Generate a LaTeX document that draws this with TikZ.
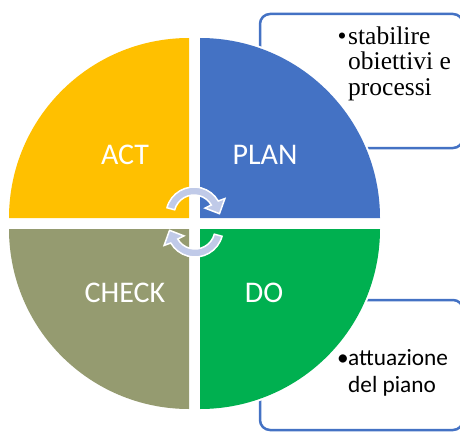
\documentclass[tikz,border=0pt]{standalone}
\usepackage{fontspec}
\newfontfamily\calibri{Carlito}
\newfontfamily\cambria{Liberation Serif}
\definecolor{actc}{HTML}{FFC000}
\definecolor{planc}{HTML}{4472C4}
\definecolor{checkc}{HTML}{959B70}
\definecolor{doc}{HTML}{00B050}
\definecolor{arrowc}{HTML}{C0CAE8}
\begin{document}
\begin{tikzpicture}[x=1pt,y=1pt,
 quad/.style={preaction={draw=white,line width=4pt}},
 lbl/.style={text=white,font=\calibri\fontsize{30}{36}\selectfont,inner sep=0pt},
 infobox/.style={draw=planc,line width=2.5pt,rounded corners=10pt,fill=white},
 cyc/.style={fill=arrowc,draw=white,line width=1.5pt,line join=miter},
 sertext/.style={font=\cambria\fontsize{25.5}{25}\selectfont,anchor=base west,inner sep=0pt},
 santext/.style={font=\calibri\fontsize{23.3}{27}\selectfont,anchor=base west,inner sep=0pt}]
\useasboundingbox (0,0) rectangle (460,432);
\clip (0,0) rectangle (460,432);
% info boxes
\draw[infobox] (260,418) rectangle (463,284);
\draw[infobox] (260,132) rectangle (463,2);
% quadrants
\fill[actc,quad] (189,214) -- (9,214) arc[start angle=180,end angle=90,radius=180pt] -- cycle;
\fill[planc,quad] (200,214) -- (200,394) arc[start angle=90,end angle=0,radius=180pt] -- cycle;
\fill[checkc,quad] (189,203) -- (9,203) arc[start angle=180,end angle=270,radius=180pt] -- cycle;
\fill[doc,quad] (200,203) -- (380,203) arc[start angle=0,end angle=-90,radius=180pt] -- cycle;
% labels
\node[lbl] (act) at (125,277) {ACT};
\node[lbl] (plan) at (265,277) {PLAN};
\node[lbl] (check) at (125,139) {CHECK};
\node[lbl] (do) at (264,139) {DO};
% cycle arrows
\begin{scope}[shift={(194,217)}]
\path[cyc] (165:28pt) arc[start angle=165,end angle=30,radius=28pt] -- (28:35pt) -- (3:25.5pt) -- (32:13pt) -- (30:20pt) arc[start angle=30,end angle=165,radius=20pt] -- cycle;
\end{scope}
\begin{scope}[shift={(195,203)},rotate=180]
\path[cyc] (165:28pt) arc[start angle=165,end angle=30,radius=28pt] -- (28:35pt) -- (3:25.5pt) -- (32:13pt) -- (30:20pt) arc[start angle=30,end angle=165,radius=20pt] -- cycle;
\end{scope}
% texts
\node[sertext] (bul1) at (337.5,387) {•};
\node[sertext] (t1) at (348,387) {stabilire};
\node[sertext] (t2) at (348,362) {obiettivi e};
\node[sertext] (t3) at (348,337) {processi};
\node[santext] (bul2) at (337,67) {•};
\node[santext] (s1) at (348,67) {attuazione};
\node[santext] (s2) at (348,40) {del piano};
\end{tikzpicture}
\end{document}
